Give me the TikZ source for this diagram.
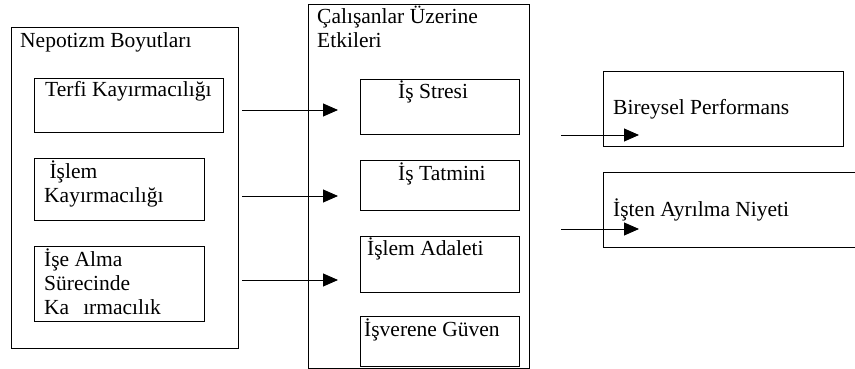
\documentclass[tikz,border=0pt]{standalone}
\usepackage{fontspec}
\setmainfont{Liberation Serif}
\usetikzlibrary{arrows.meta}

\begin{document}
\begin{tikzpicture}[
    x=1pt, y=-1pt,
    box/.style={draw=black, line width=1.4pt, inner sep=0pt, anchor=north west},
    txt/.style={font=\fontsize{21.5}{24}\selectfont, inner sep=0pt, anchor=base west, align=left},
    arr/.style={-{Triangle[length=15pt,width=13pt]}, line width=0.9pt},
  ]
  \useasboundingbox (0,0) rectangle (855,369);

  % ================= nepotism dimensions
  \node[box, minimum width=227pt, minimum height=321pt] (nep) at (11,27) {};
  \node[txt] (neptxt) at (20,48) {Nepotizm Boyutları};
  \node[box, minimum width=189pt, minimum height=54pt] (terfi) at (34,78) {};
  \node[txt] (terfitxt) at (45,97) {Terfi Kayırmacılığı};
  \node[box, minimum width=170pt, minimum height=62pt] (islem) at (34,158) {};
  % multi-line texts sit on the baseline of their last line
  \node[txt] (islemtxt) at (44,202) {\ İşlem\\Kayırmacılığı};
  \node[box, minimum width=170pt, minimum height=75pt] (iseal) at (34,246) {};
  \node[txt] (isealtxt) at (44,314) {İşe Alma\\Sürecinde\\Ka\hspace{14pt}ırmacılık};

  % ================= effects on employees
  \node[box, minimum width=221pt, minimum height=364pt] (etki) at (308,4) {};
  \node[txt] (etkitxt) at (317,48) {Çalışanlar Üzerine\\Etkileri};
  \node[box, minimum width=159pt, minimum height=55pt] (stres) at (360,79) {};
  \node[txt] (strestxt) at (398,99) {İş Stresi};
  \node[box, minimum width=159pt, minimum height=50pt] (tatmin) at (360,160) {};
  \node[txt] (tatmintxt) at (398,180) {İş Tatmini};
  \node[box, minimum width=159pt, minimum height=56pt] (adalet) at (360,236) {};
  \node[txt] (adalettxt) at (367,255) {İşlem Adaleti};
  \node[box, minimum width=159pt, minimum height=50pt] (guven) at (360,316) {};
  \node[txt] (guventxt) at (364,336) {İşverene Güven};

  % ================= outcomes
  \node[box, minimum width=240pt, minimum height=75pt] (perf) at (603,71) {};
  \node[txt] (perftxt) at (613,114) {Bireysel Performans};
  \node[box, minimum width=262pt, minimum height=75pt] (ayril) at (603,172) {};
  \node[txt] (ayriltxt) at (613,216) {İşten Ayrılma Niyeti};

  % arrow ends
  \coordinate (a1s) at (242,110); \coordinate (a1e) at (338,110);
  \coordinate (a2s) at (242,196); \coordinate (a2e) at (338,196);
  \coordinate (a3s) at (242,280); \coordinate (a3e) at (338,280);
  \coordinate (b1s) at (561,135); \coordinate (b1e) at (639,135);
  \coordinate (b2s) at (561,229); \coordinate (b2e) at (639,229);
  \foreach \a in {a1,a2,a3,b1,b2} {
    \draw[arr] (\a s) -- (\a e);
  }
\end{tikzpicture}
\end{document}
